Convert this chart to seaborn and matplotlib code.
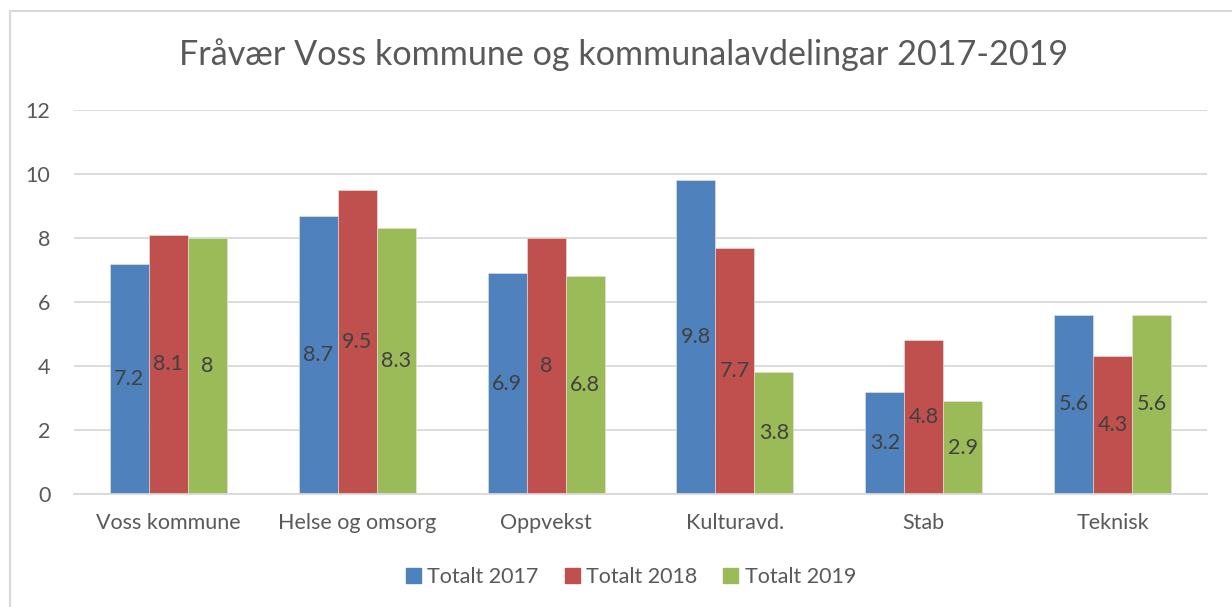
import matplotlib.pyplot as plt
import seaborn as sns
import pandas as pd
from matplotlib.patches import Rectangle

categories = ['Voss kommune', 'Helse og omsorg', 'Oppvekst', 'Kulturavd.', 'Stab', 'Teknisk']
series = ['Totalt 2017', 'Totalt 2018', 'Totalt 2019']
totalt_2017 = [7.2, 8.7, 6.9, 9.8, 3.2, 5.6]
totalt_2018 = [8.1, 9.5, 8.0, 7.7, 4.8, 4.3]
totalt_2019 = [8.0, 8.3, 6.8, 3.8, 2.9, 5.6]
y_ticks = [0, 2, 4, 6, 8, 10, 12]

colors = ['#4F81BD', '#C0504D', '#9BBB59']
text_col = '#595959'

rows = []
for name, vals in zip(series, [totalt_2017, totalt_2018, totalt_2019]):
    for cat, v in zip(categories, vals):
        rows.append({'kategori': cat, 'serie': name, 'verdi': v})
df = pd.DataFrame(rows)

sns.set_style('white')
plt.rcParams['font.family'] = ['Lato', 'DejaVu Sans']

fig = plt.figure(figsize=(12.32, 6.07), dpi=100)
ax = fig.add_axes([74 / 1232, 1 - 494 / 607, (1207 - 74) / 1232, (494 - 110) / 607])

sns.barplot(data=df, x='kategori', y='verdi', hue='serie', palette=colors,
            width=0.62, gap=0, saturation=1, ax=ax, errorbar=None,
            edgecolor='#E6E6E6', linewidth=0.4)

for cont in ax.containers:
    ax.bar_label(cont, labels=['{:g}'.format(v) for v in cont.datavalues],
                 label_type='center', fontsize=15.5, color='#404040')

ax.set_ylim(0, 12)
ax.set_yticks(y_ticks)
ax.set_xlim(-0.5, len(categories) - 0.5)
ax.yaxis.grid(True, color='#D9D9D9', linewidth=1.3)
ax.set_axisbelow(True)
for s in ['top', 'right', 'left']:
    ax.spines[s].set_visible(False)
ax.spines['bottom'].set_color('#D9D9D9')
ax.spines['bottom'].set_linewidth(1.3)
ax.tick_params(axis='both', length=0, labelsize=15.5, labelcolor=text_col)
ax.tick_params(axis='x', pad=14)
ax.tick_params(axis='y', pad=17)
ax.set_xlabel('')
ax.set_ylabel('')

fig.text(624 / 1232, 1 - 55 / 607, 'Fråvær Voss kommune og kommunalavdelingar 2017-2019',
         ha='center', va='center', fontsize=24.6, color=text_col)

ax.legend_.remove()
handles = [Rectangle((0, 0), 1, 1, color=c) for c in colors]
fig.legend(handles, series, loc='center', bbox_to_anchor=(631 / 1232, 1 - 577 / 607),
           ncol=3, frameon=False, fontsize=15.5, labelcolor=text_col,
           handlelength=0.7, handleheight=0.7, handletextpad=0.3, columnspacing=1.2)

# chart border like in the original
fig.patches.append(Rectangle((10 / 1232, -0.01), 1.1, 1 - 11 / 607 + 0.01,
                             transform=fig.transFigure, fill=False,
                             edgecolor='#D9D9D9', linewidth=1.5))

fig.savefig('out.png', dpi=100, facecolor='white')
